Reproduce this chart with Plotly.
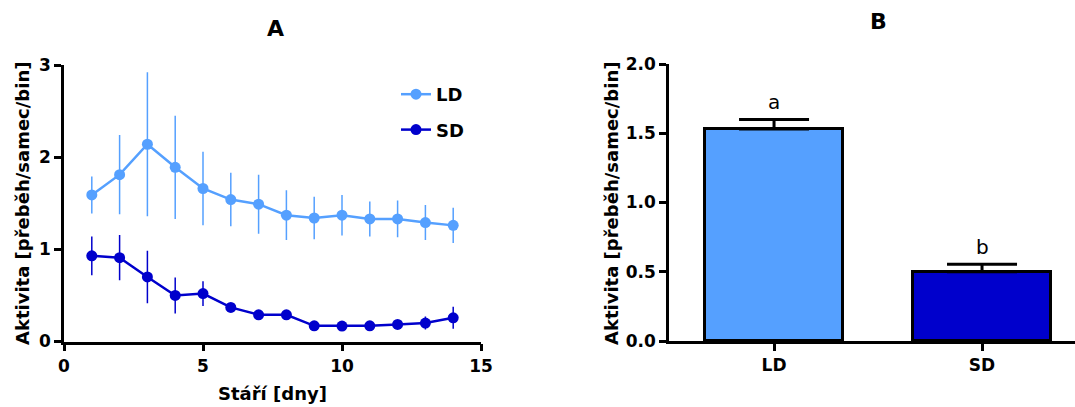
import plotly.graph_objects as go

# ---- Data ----
days = [1, 2, 3, 4, 5, 6, 7, 8, 9, 10, 11, 12, 13, 14]
ld_mean = [1.59, 1.81, 2.14, 1.89, 1.66, 1.54, 1.49, 1.37, 1.34, 1.37, 1.33, 1.33, 1.29, 1.26]
ld_sem = [0.20, 0.43, 0.78, 0.56, 0.40, 0.29, 0.32, 0.27, 0.23, 0.22, 0.19, 0.20, 0.19, 0.19]
sd_mean = [0.93, 0.91, 0.70, 0.50, 0.52, 0.37, 0.29, 0.29, 0.17, 0.167, 0.17, 0.185, 0.20, 0.257]
sd_sem = [0.21, 0.245, 0.285, 0.195, 0.135, 0.03, 0.03, 0.03, 0.02, 0.02, 0.02, 0.03, 0.07, 0.12]

groups = ["LD", "SD"]
group_pos = [0, 1]
group_mean = [1.53, 0.50]
group_sem = [0.07, 0.055]
group_letters = ["a", "b"]

series_names = ["LD", "SD"]
colors = ["#55A0FF", "#0000CC"]

FONT = "DejaVu Sans, Liberation Sans, Arial, sans-serif"

fig = go.Figure()

# Panel A lines
for name, mean, sem, col in [(series_names[0], ld_mean, ld_sem, colors[0]),
                             (series_names[1], sd_mean, sd_sem, colors[1])]:
    fig.add_trace(go.Scatter(
        x=days, y=mean, name=name, mode="lines+markers",
        line=dict(color=col, width=2.5),
        marker=dict(color=col, size=11),
        error_y=dict(type="data", array=sem, visible=True, color=col,
                     thickness=1.5, width=0),
        legendgroup=name,
        xaxis="x", yaxis="y",
    ))

# Panel B bars
fig.add_trace(go.Bar(
    x=group_pos, y=group_mean, width=0.663,
    marker=dict(color=colors, line=dict(color="black", width=3)),
    error_y=dict(type="data", array=group_sem, arrayminus=[0, 0], symmetric=False,
                 visible=True, color="black", thickness=3, width=35),
    showlegend=False,
    xaxis="x2", yaxis="y2",
))

axis_common = dict(
    showline=True, linecolor="black", linewidth=2.5,
    ticks="outside", ticklen=7, tickwidth=2.5, tickcolor="black",
    showgrid=False, zeroline=False, automargin=False,
    tickfont=dict(family=FONT, size=17, color="black", weight="bold"),
)

fig.update_layout(
    template="none",
    width=1075, height=407,
    margin=dict(l=0, r=0, t=0, b=0, pad=0, autoexpand=False),
    paper_bgcolor="white", plot_bgcolor="white",
    font=dict(family=FONT, color="black"),
    bargap=0,
    xaxis=dict(domain=[64/1075, 481/1075], range=[0, 15], tickvals=[0, 5, 10, 15],
               anchor="y", **axis_common),
    yaxis=dict(domain=[65.5/407, 342/407], range=[0, 3], tickvals=[0, 1, 2, 3],
               anchor="x", **axis_common),
    xaxis2=dict(domain=[669/1075, 1.0], range=[-0.505, 1.447], tickvals=group_pos,
                ticktext=groups, anchor="y2", **axis_common),
    yaxis2=dict(domain=[66/407, 343/407], range=[0, 2], tickvals=[0, 0.5, 1.0, 1.5, 2.0],
                tickformat=".1f", anchor="x2", **axis_common),
    legend=dict(x=396/1075, y=(407-76)/407, xanchor="left", yanchor="top",
                font=dict(family=FONT, size=18, color="black", weight="bold"),
                bgcolor="rgba(0,0,0,0)", borderwidth=0,
                tracegroupgap=9, traceorder="grouped"),
)

annotations = [
    dict(text="A", x=275/1075, y=(407-28)/407, xref="paper", yref="paper",
         xanchor="center", yanchor="middle",
         showarrow=False, font=dict(size=22, family=FONT, weight="bold")),
    dict(text="B", x=878/1075, y=(407-21)/407, xref="paper", yref="paper",
         xanchor="center", yanchor="middle",
         showarrow=False, font=dict(size=22, family=FONT, weight="bold")),
    dict(text="Aktivita [přeběh/samec/bin]", x=23/1075, y=(407-204)/407,
         xref="paper", yref="paper", textangle=-90, showarrow=False,
         xanchor="center", yanchor="middle",
         font=dict(size=18, family=FONT, weight="bold")),
    dict(text="Aktivita [přeběh/samec/bin]", x=612/1075, y=(407-204)/407,
         xref="paper", yref="paper", textangle=-90, showarrow=False,
         xanchor="center", yanchor="middle",
         font=dict(size=18, family=FONT, weight="bold")),
    dict(text="Stáří [dny]", x=272/1075, y=(407-393)/407,
         xref="paper", yref="paper", showarrow=False,
         xanchor="center", yanchor="middle",
         font=dict(size=18, family=FONT, weight="bold")),
]
for pos, m, s, letter in zip(group_pos, group_mean, group_sem, group_letters):
    annotations.append(dict(text=letter, x=pos, y=m + s, xref="x2", yref="y2",
                            yanchor="bottom", yshift=3, showarrow=False,
                            font=dict(size=20, family=FONT)))
fig.update_layout(annotations=annotations)

fig.write_html("out.html")
